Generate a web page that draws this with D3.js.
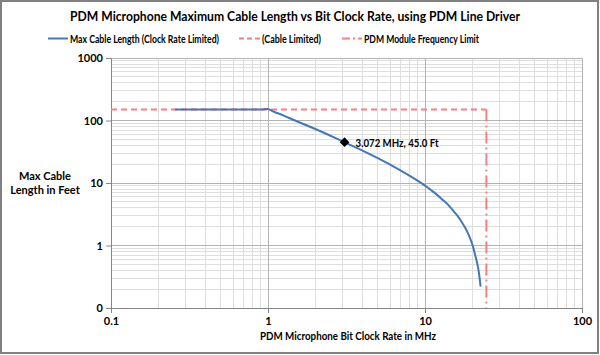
<!DOCTYPE html>
<html><head><meta charset="utf-8">
<script src="https://cdn.jsdelivr.net/npm/d3@7"></script>
<style>
body{margin:0;background:#fff;}
text{font-family:Lato,"Open Sans",sans-serif;font-weight:bold;fill:#000;}
</style></head>
<body><svg id="c" width="600" height="355"></svg>
<script>
const titleText = "PDM Microphone Maximum Cable Length vs Bit Clock Rate, using PDM Line Driver";
const seriesNames = ["Max Cable Length (Clock Rate Limited)", "(Cable Limited)", "PDM Module Frequency Limit"];
const xTitle = "PDM Microphone Bit Clock Rate in MHz";
const yTitleLines = ["Max Cable", "Length in Feet"];
const xTickValues = [0.1, 1, 10, 100];
const xTickLabels = ["0.1", "1", "10", "100"];
const yTickValues = [0.1, 1, 10, 100, 1000];
const yTickLabels = ["0", "1", "10", "100", "1000"];
const freqMHz = [0.256, 0.5, 0.9, 1.0, 1.1, 1.25, 1.5, 2.0, 2.5, 3.072, 4, 5, 6, 8, 10, 11, 12, 13, 14, 15, 16, 17, 18, 19, 20, 21, 21.5, 22, 22.6];
const lengthFt = [150, 150, 150, 152, 137, 121, 99, 73, 57, 45, 33, 25, 19.7, 13, 9.1, 7.6, 6.4, 5.35, 4.5, 3.7, 3.05, 2.45, 1.94, 1.47, 1.05, 0.66, 0.52, 0.38, 0.22];
const cableLimitFt = [150];
const freqLimitMHz = [24.6];
const markerPoint = [3.072, 45.0];
const markerLabel = "3.072 MHz, 45.0 Ft";

const svg = d3.select("#c");
const x = d3.scaleLog().domain([0.1, 100]).range([111, 582]);
const y = d3.scaleLog().domain([0.1, 1000]).range([308, 58]);
const blue = "#4577b8", red = "#ff7c80";

// border
svg.append("rect").attr("x",1).attr("y",1).attr("width",597).attr("height",352)
  .attr("fill","#fff").attr("stroke","#808080").attr("stroke-width",2);

// grid
const g = svg.append("g");
const minorX = [], minorY = [];
for (let d = 0.1; d < 100; d *= 10) for (let k = 2; k <= 9; k++) minorX.push(d*k);
for (let d = 0.1; d < 1000; d *= 10) for (let k = 2; k <= 9; k++) minorY.push(d*k);
g.selectAll(".mx").data(minorX).join("line").attr("x1",d=>x(d)).attr("x2",d=>x(d))
  .attr("y1",y(0.1)).attr("y2",y(1000)).attr("stroke","#dedede").attr("stroke-width",1).attr("shape-rendering","crispEdges");
g.selectAll(".my").data(minorY).join("line").attr("y1",d=>y(d)).attr("y2",d=>y(d))
  .attr("x1",x(0.1)).attr("x2",x(100)).attr("stroke","#dedede").attr("stroke-width",1).attr("shape-rendering","crispEdges");
g.selectAll(".Mx").data(xTickValues).join("line").attr("x1",d=>x(d)).attr("x2",d=>x(d))
  .attr("y1",y(0.1)).attr("y2",y(1000)).attr("stroke","#b3b3b3").attr("stroke-width",1).attr("shape-rendering","crispEdges");
g.selectAll(".My").data(yTickValues).join("line").attr("y1",d=>y(d)).attr("y2",d=>y(d))
  .attr("x1",x(0.1)).attr("x2",x(100)).attr("stroke","#b3b3b3").attr("stroke-width",1).attr("shape-rendering","crispEdges");

// axes
const ax = svg.append("g").attr("transform",`translate(0,${y(0.1)})`)
  .call(d3.axisBottom(x).tickValues(xTickValues).tickFormat((d,i)=>xTickLabels[i]).tickSizeOuter(0).tickSize(5).tickPadding(4));
const ay = svg.append("g").attr("transform",`translate(${x(0.1)},0)`)
  .call(d3.axisLeft(y).tickValues(yTickValues).tickFormat((d,i)=>yTickLabels[i]).tickSizeOuter(0).tickSize(5).tickPadding(3));
[ax, ay].forEach(a => {
  a.select(".domain").attr("stroke","#868686");
  a.selectAll(".tick line").attr("stroke","#868686");
  a.selectAll(".tick text").attr("font-size",11).attr("font-family","Lato").attr("font-weight","bold").attr("fill","#000");
});

// cable limit & freq limit
svg.append("line").attr("x1",x(0.1)).attr("x2",x(freqLimitMHz[0])).attr("y1",y(cableLimitFt[0])).attr("y2",y(cableLimitFt[0]))
  .attr("stroke",red).attr("stroke-width",2).attr("stroke-dasharray","6,4");
svg.append("line").attr("x1",x(freqLimitMHz[0])).attr("x2",x(freqLimitMHz[0])).attr("y1",y(cableLimitFt[0])).attr("y2",y(0.1))
  .attr("stroke",red).attr("stroke-width",2).attr("stroke-dasharray","12,4,2,4");

// curve
const pts = freqMHz.map((f,i)=>[f, lengthFt[i]]);
svg.append("path").datum(pts)
  .attr("d", d3.line().x(d=>x(d[0])).y(d=>y(d[1])).curve(d3.curveCatmullRom.alpha(0.5)))
  .attr("fill","none").attr("stroke",blue).attr("stroke-width",2);

// marker
const mx = x(markerPoint[0]), my = y(markerPoint[1]);
svg.append("path").attr("d", d3.symbol().type(d3.symbolDiamond2).size(60)())
  .attr("transform",`translate(${mx},${my})`).attr("fill","#000");
svg.append("text").attr("x",mx+11).attr("y",my+4.5).attr("font-size",11)
  .attr("textLength",83).attr("lengthAdjust","spacingAndGlyphs").text(markerLabel);

// title
svg.append("text").attr("x",70).attr("y",21).attr("font-size",13.5)
  .attr("textLength",450).attr("lengthAdjust","spacingAndGlyphs").text(titleText);

// legend
const leg = [
  {x0:48, x1:68, tx:70, tl:149, dash:null},
  {x0:239, x1:260, tx:262, tl:59, dash:"5,3"},
  {x0:342, x1:362, tx:364, tl:115, dash:"8,3,2,3"}
];
leg.forEach((l,i)=>{
  svg.append("line").attr("x1",l.x0).attr("x2",l.x1).attr("y1",38.5).attr("y2",38.5)
    .attr("stroke", i===0?blue:red).attr("stroke-width",2).attr("stroke-dasharray", l.dash);
  svg.append("text").attr("x",l.tx).attr("y",42.5).attr("font-size",11)
    .attr("textLength",l.tl).attr("lengthAdjust","spacingAndGlyphs").text(seriesNames[i]);
});

// axis titles
svg.append("text").attr("x",260).attr("y",340).attr("font-size",11)
  .attr("textLength",176).attr("lengthAdjust","spacingAndGlyphs").text(xTitle);
svg.append("text").attr("x",45).attr("y",180).attr("font-size",11).attr("text-anchor","middle").text(yTitleLines[0]);
svg.append("text").attr("x",45).attr("y",194).attr("font-size",11).attr("text-anchor","middle").text(yTitleLines[1]);
</script></body></html>
